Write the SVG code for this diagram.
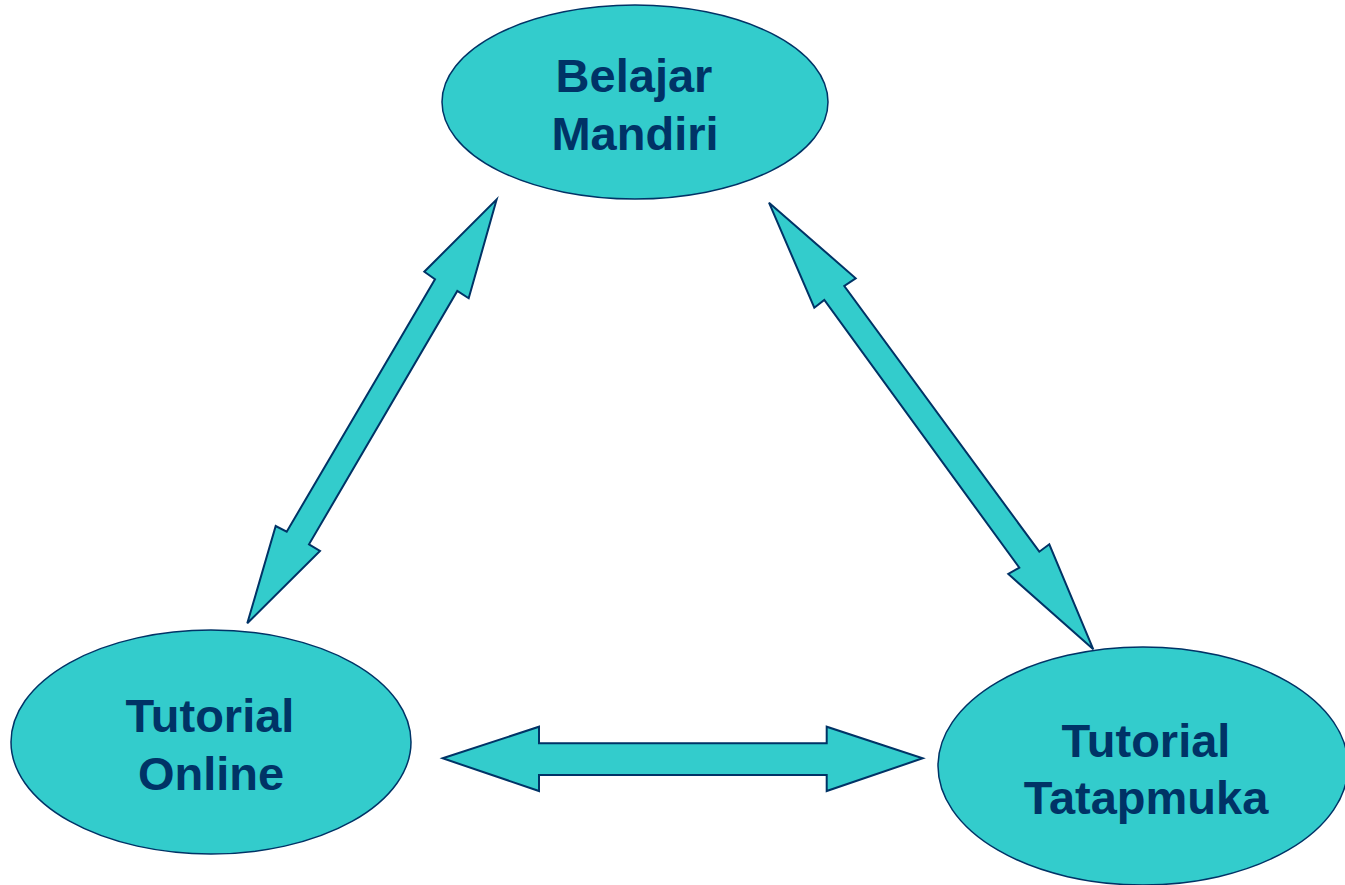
<svg xmlns="http://www.w3.org/2000/svg" width="1345" height="885" viewBox="0 0 1345 885">
<style>
.node{fill:#33CCCC;stroke:#003366;stroke-width:1.5}
.arrow{fill:#33CCCC;stroke:#003366;stroke-width:2;stroke-linejoin:miter}
.lbl{font-family:"Liberation Sans",Arial,sans-serif;font-weight:bold;font-size:47px;fill:#003366;text-anchor:middle}
</style>
<rect width="1345" height="885" fill="#FFFFFF"/>
<g id="connectors">
<polygon class="arrow" points="496.7,199.3 468.7,298.3 457.3,291 309,544.3 320,551 247.3,623.3 275.7,526 286.7,531.7 435,279.3 424.3,271.7"/>
<polygon class="arrow" points="769,202.7 855.7,278.3 844.3,286 1039.3,551.7 1049.3,544.3 1093.3,649.3 1008.3,574 1019.3,567.7 824.3,300 814.3,307.7"/>
<polygon class="arrow" points="442.7,758.3 539,726.7 539,743.3 826.7,743.3 826.7,726.7 922.7,758.3 826.7,791 826.7,775 539,775 539,791"/>
</g>
<g id="belajar-mandiri">
<ellipse class="node" cx="635" cy="102" rx="193" ry="97"/>
<text class="lbl" x="634" y="92">Belajar</text>
<text class="lbl" x="635" y="150">Mandiri</text>
</g>
<g id="tutorial-online">
<ellipse class="node" cx="211" cy="742" rx="200" ry="112"/>
<text class="lbl" x="210" y="732">Tutorial</text>
<text class="lbl" x="211" y="790">Online</text>
</g>
<g id="tutorial-tatapmuka">
<ellipse class="node" cx="1143" cy="766" rx="205" ry="119"/>
<text class="lbl" x="1146" y="757">Tutorial</text>
<text class="lbl" x="1146" y="814">Tatapmuka</text>
</g>
</svg>
